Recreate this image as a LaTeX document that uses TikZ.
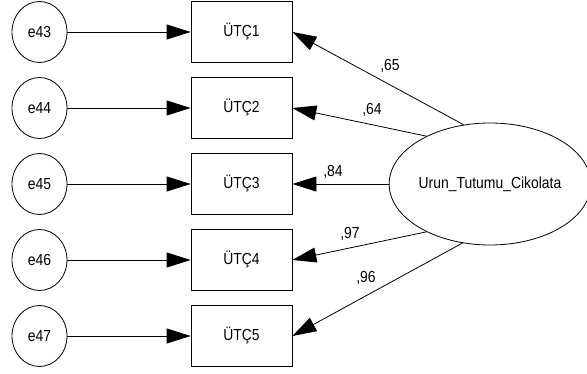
\documentclass[tikz,border=0pt]{standalone}
\usepackage{fontspec}
\setmainfont[FakeStretch=0.87]{Liberation Sans}
\usetikzlibrary{arrows.meta,shapes.geometric}

\tikzset{
  errnode/.style={draw,ellipse,line width=0.8pt,minimum width=55pt,minimum height=61pt,inner sep=0pt},
  itembox/.style={draw,rectangle,line width=0.8pt,minimum width=101pt,minimum height=61pt,inner sep=0pt},
  latnode/.style={draw,ellipse,line width=0.8pt,minimum width=192pt,minimum height=122pt,inner sep=0pt},
  path arrow/.style={line width=0.8pt,-{Triangle[length=24pt,width=15pt]}},
  coef/.style={inner sep=0.75pt}
}

\begin{document}
\begin{tikzpicture}[x=1pt,y=1pt,yscale=-1,font=\fontsize{16}{18}\selectfont]
\useasboundingbox (0,0) rectangle (587,374);

% error terms
\node [errnode] (e43) at (39.5,32) {e43};
\node [errnode] (e44) at (39.5,108) {e44};
\node [errnode] (e45) at (39.5,184) {e45};
\node [errnode] (e46) at (39.5,260) {e46};
\node [errnode] (e47) at (39.5,336) {e47};

% observed items
\node [itembox] (utc1) at (241.5,32) {ÜTÇ1};
\node [itembox] (utc2) at (241.5,108) {ÜTÇ2};
\node [itembox] (utc3) at (241.5,184) {ÜTÇ3};
\node [itembox] (utc4) at (241.5,260) {ÜTÇ4};
\node [itembox] (utc5) at (241.5,336) {ÜTÇ5};

% latent factor
\node [latnode] (urun) at (490,184) {Urun\_Tutumu\_Cikolata};

% error paths
\draw [path arrow] (e43) -- (utc1);
\draw [path arrow] (e44) -- (utc2);
\draw [path arrow] (e45) -- (utc3);
\draw [path arrow] (e46) -- (utc4);
\draw [path arrow] (e47) -- (utc5);

% loadings
\draw [path arrow] (urun.114.6) -- (utc1.east);
\draw [path arrow] (urun.143.9) -- (utc2.east);
\draw [path arrow] (urun.west) -- (utc3.east);
\draw [path arrow] (urun.217) -- (utc4.east);
\draw [path arrow] (urun.245.8) -- (utc5.east);

% Text Node
\node [coef] (k1) at (390,66) {,65};
% Text Node
\node [coef] (k2) at (372,110) {,64};
% Text Node
\node [coef] (k3) at (333,172) {,84};
% Text Node
\node [coef] (k4) at (350,234) {,97};
% Text Node
\node [coef] (k5) at (366,278) {,96};

\end{tikzpicture}
\end{document}
